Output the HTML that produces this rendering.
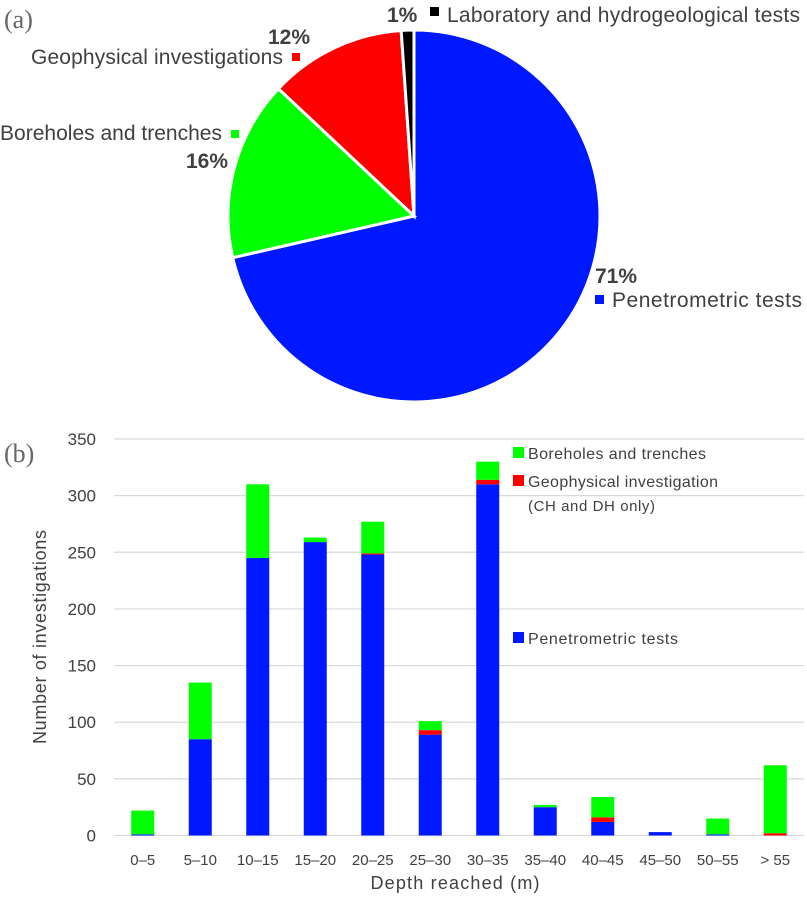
<!DOCTYPE html>
<html><head><meta charset="utf-8"><style>
body{margin:0;background:#fff;width:807px;height:894px;overflow:hidden}
svg text{font-family:"Liberation Sans",sans-serif}
</style></head><body>
<svg id="c" width="807" height="894">
<text x="4" y="28" font-size="26" fill="#666" style="font-family:'Liberation Serif',serif">(a)</text>
<text x="4" y="462" font-size="26" fill="#666" style="font-family:'Liberation Serif',serif">(b)</text>
<g id="pie"></g>
<g id="bars"></g>
</svg>
<script>
const pieLabels=["Penetrometric tests","Boreholes and trenches","Geophysical investigations","Laboratory and hydrogeological tests"];
const pieValues=[71.4,15.6,11.9,1.1];
const pieColors=["#0018ff","#00ff00","#ff0000","#000000"];
const cats=["0–5","5–10","10–15","15–20","20–25","25–30","30–35","35–40","40–45","45–50","50–55","> 55"];
const blue=[1,85,245,259,248,89,310,25,12,3,1,0];
const red=[0,0,0,0,1,4,4,0,4,0,0,2];
const green=[21,50,65,4,28,8,16,2,18,0,14,60];
const yTicks=[0,50,100,150,200,250,300,350];
const NS="http://www.w3.org/2000/svg";
function mk(tag,attrs,parent){const e=document.createElementNS(NS,tag);for(const k in attrs)e.setAttribute(k,attrs[k]);parent.appendChild(e);return e;}
const pie=document.getElementById('pie');
const cx=414,cy=216,r=186;
const tot=pieValues.reduce((a,b)=>a+b,0);
let a0=0;
pieValues.forEach((v,i)=>{
  const a1=a0+v/tot*2*Math.PI;
  const x0=cx+r*Math.sin(a0),y0=cy-r*Math.cos(a0),x1=cx+r*Math.sin(a1),y1=cy-r*Math.cos(a1);
  const p=mk('path',{d:`M${cx},${cy}L${x0},${y0}A${r},${r} 0 ${a1-a0>Math.PI?1:0} 1 ${x1},${y1}Z`,fill:pieColors[i],stroke:'#fff','stroke-width':3},pie);
  
  
  a0=a1;
});
function txt(x,y,s,opts,parent,name){const t=mk('text',Object.assign({x:x,y:y,'font-size':21,fill:'#404040'},opts||{}),parent);t.textContent=s;return t;}
function sq(x,y,c,s,parent,name){const e=mk('rect',{x:x,y:y,width:s,height:s,fill:c},parent);}
const pb={'font-weight':'bold','font-size':21};
txt(595,283,Math.round(pieValues[0])+'%',pb,pie,'pct-penetrometric');
sq(595,295,pieColors[0],9,pie,'legend-marker-penetrometric');
txt(612,307,pieLabels[0],{textLength:190},pie,'label-penetrometric');
txt(186,168,Math.round(pieValues[1])+'%',pb,pie,'pct-boreholes');
txt(0,140,pieLabels[1],{textLength:222},pie,'label-boreholes');
sq(231,130,pieColors[1],8,pie,'legend-marker-boreholes');
txt(268,44,Math.round(pieValues[2])+'%',pb,pie,'pct-geophysical');
txt(31,64,pieLabels[2],{textLength:252},pie,'label-geophysical');
sq(292,53,pieColors[2],8,pie,'legend-marker-geophysical');
txt(387,22,Math.round(pieValues[3])+'%',pb,pie,'pct-laboratory');
sq(430,7,pieColors[3],9,pie,'legend-marker-laboratory');
txt(447,22,pieLabels[3],{textLength:353},pie,'label-laboratory');
const g=document.getElementById('bars');
const X0=114,step=57.5,Y0=835.5,Ytop=439,ymax=350,bw=23;
const ys=v=>Y0-v/ymax*(Y0-Ytop);
const xc=i=>X0+step*(i+0.5);
yTicks.forEach(t=>{
  const l=mk('line',{x1:X0,x2:804,y1:ys(t),y2:ys(t),stroke:'#d9d9d9','stroke-width':1.2},g);
  
  
  txt(96,ys(t)+6,String(t),{'font-size':17,'text-anchor':'end'},g,'y-tick-'+t);
});
cats.forEach((c,i)=>{
  let base=0;
  [[blue,'#0018ff','blue'],[red,'#ff0000','red'],[green,'#00ff00','green']].forEach(([arr,col,nm])=>{
    const v=arr[i];
    if(v>0){const b=mk('rect',{x:xc(i)-bw/2,y:ys(base+v),width:bw,height:ys(base)-ys(base+v),fill:col},g);
      
      }
    base+=v;
  });
  txt(xc(i),865,c,{'font-size':15,'text-anchor':'middle'},g,'x-tick-'+i);
});
txt(455,889,'Depth reached  (m)',{'font-size':18,'text-anchor':'middle',textLength:169,'xml:space':'preserve'},g,'x-axis-title');
txt(0,0,'Number of investigations',{'font-size':18,'text-anchor':'middle',textLength:214,transform:'translate(46,637) rotate(-90)'},g,'y-axis-title');
sq(513,447,'#00ff00',11,g,'legend-marker-boreholes-b');
txt(528,459,'Boreholes and trenches',{'font-size':16,textLength:178},g,'legend-boreholes-b');
sq(513,475,'#ff0000',11,g,'legend-marker-geophysical-b');
txt(528,487,'Geophysical investigation',{'font-size':16,textLength:190},g,'legend-geophysical-b');
txt(528,511,'(CH and DH only)',{'font-size':15,textLength:127},g,'legend-geophysical-note');
sq(513,632,'#0018ff',11,g,'legend-marker-penetrometric-b');
txt(528,644,'Penetrometric tests',{'font-size':16,textLength:150},g,'legend-penetrometric-b');
</script>
</body></html>
